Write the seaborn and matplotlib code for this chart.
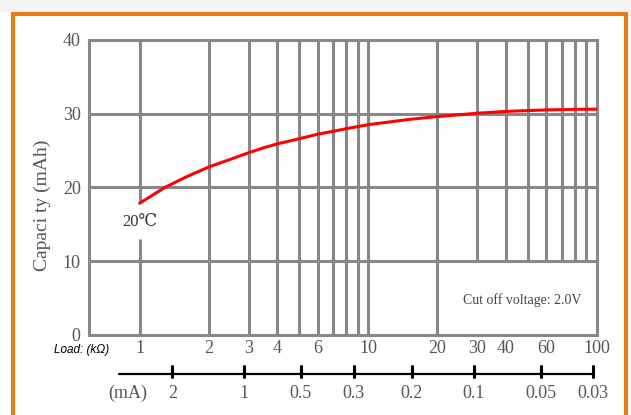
import numpy as np
import pandas as pd
import matplotlib.pyplot as plt
import seaborn as sns
from matplotlib.lines import Line2D
from matplotlib.patches import Rectangle

# curve
load_kohm = [1, 1.29, 1.58, 2, 2.44, 3, 3.47, 4, 5, 6, 8, 10, 15, 20, 30, 40, 60, 80, 100]
capacity_mah = [17.85, 20.0, 21.35, 22.75, 23.7, 24.7, 25.35, 25.9, 26.6, 27.2, 27.95,
                28.5, 29.2, 29.6, 30.05, 30.3, 30.5, 30.58, 30.6]

x_ticks = [1, 2, 3, 4, 6, 10, 20, 30, 40, 60, 100]
x_labels = ["1", "2", "3", "4", "6", "10", "20", "30", "40", "60", "100"]
y_ticks = [0, 10, 20, 30, 40]

grid_full = [2, 3, 4, 5, 6, 7, 8, 9, 10, 20]
grid_short = [30, 40, 50, 60, 70, 80, 90]

ma_labels = ["2", "1", "0.5", "0.3", "0.2", "0.1", "0.05", "0.03"]
ma_pos_kohm = [1.39, 2.85, 5.07, 8.62, 15.5, 28.9, 57.0, 95.8]

sns.set_style("white")
plt.rcParams['font.family'] = ['Liberation Serif', 'DejaVu Serif']

GRID = "#888888"
TXT = "#555555"

fig = plt.figure(figsize=(6.31, 4.15), dpi=100)
ax = fig.add_axes([0.141, 0.193, 0.805, 0.711])

df = pd.DataFrame({"load": load_kohm, "cap": capacity_mah})

# grid lines (some are broken, so draw them by hand)
ax.hlines([10, 20, 30], 0.6, 100, color=GRID, lw=2.2, zorder=1)
ax.vlines(grid_full, 0, 40, color=GRID, lw=2.2, zorder=1)
ax.vlines(grid_short, 10, 40, color=GRID, lw=2.2, zorder=1)
ax.vlines([1, 1], [0, 17.85], [13, 40], color=GRID, lw=2.2, zorder=1)

sns.lineplot(data=df, x="load", y="cap", ax=ax, color="red", lw=2.2, zorder=3)

ax.set_xscale("log")
ax.set_xlim(0.6, 100)
ax.set_ylim(0, 40)
ax.set_xticks(x_ticks)
ax.set_xticklabels(x_labels)
ax.xaxis.set_minor_locator(plt.NullLocator())
ax.set_yticks(y_ticks)
ax.tick_params(axis="both", length=0, labelsize=13, labelcolor=TXT)
ax.tick_params(axis="x", pad=4)
ax.tick_params(axis="y", pad=6)
ax.set_xlabel("")
ax.set_ylabel("")
for s in ax.spines.values():
    s.set_color(GRID)
    s.set_linewidth(2.2)

ax.text(-0.0925, 0.44, "Capaci ty (mAh)", transform=ax.transAxes, rotation=90,
        ha="center", va="center", fontsize=14, color=TXT)
ax.text(1, 15.3, "20℃", ha="center", va="center", fontsize=12, color="#333333",
        family=['Liberation Serif', 'DejaVu Serif', 'Noto Sans CJK SC'])
ax.text(0.852, 0.119, "Cut off voltage: 2.0V", transform=ax.transAxes,
        ha="center", va="center", fontsize=10, color="#444444")
ax.text(-0.014, -0.051, "Load: (kΩ)", transform=ax.transAxes, ha="center",
        va="center", fontsize=8.5, style="italic", color="black",
        family=['Liberation Sans', 'DejaVu Sans'])

# current scale under the axis
tr = ax.get_xaxis_transform()
ax.plot([0.809, 97.1], [-0.132, -0.132], color="black", lw=1.6, transform=tr,
        clip_on=False)
for pos, lab in zip(ma_pos_kohm, ma_labels):
    ax.plot([pos, pos], [-0.105, -0.142], color="black", lw=2.2, transform=tr,
            clip_on=False)
    ax.text(pos, -0.197, lab, transform=tr, ha="center", va="center",
            fontsize=13, color=TXT)
ax.text(0.077, -0.197, "(mA)", transform=ax.transAxes, ha="center",
        va="center", fontsize=13, color=TXT)

# orange frame
fig.add_artist(Rectangle((0, 0.973), 1, 0.027, transform=fig.transFigure,
                         color="#f4f4f4", zorder=0))
ORANGE = "#EC7A10"
fig.add_artist(Line2D([0.0206, 0.0206], [0, 0.967], color=ORANGE, lw=2.9,
                      transform=fig.transFigure))
fig.add_artist(Line2D([0.992, 0.992], [0, 0.967], color=ORANGE, lw=2.9,
                      transform=fig.transFigure))
fig.add_artist(Line2D([0.0206, 0.992], [0.967, 0.967], color=ORANGE, lw=2.9,
                      transform=fig.transFigure, solid_capstyle="projecting"))

fig.savefig("out.png", dpi=100)
